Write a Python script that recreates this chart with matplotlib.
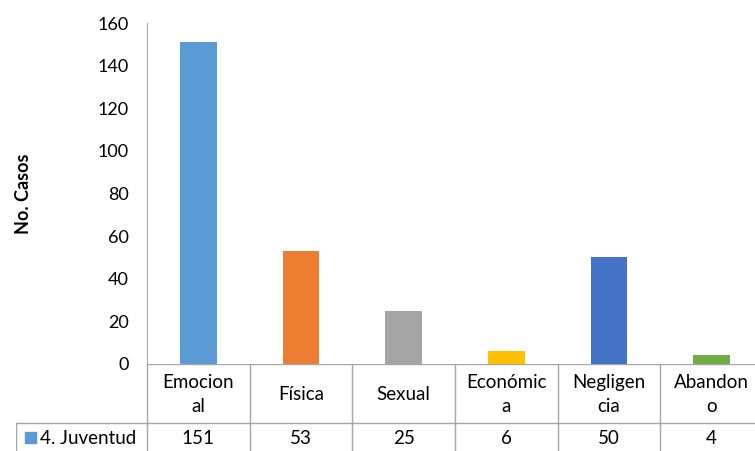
import matplotlib
matplotlib.use("Agg")
import matplotlib.pyplot as plt

categories = ["Emocion\nal", "Física", "Sexual", "Económic\na", "Negligen\ncia", "Abandon\no"]
values = [151, 53, 25, 6, 50, 4]
colors = ["#5B9BD5", "#ED7D31", "#A5A5A5", "#FFC000", "#4472C4", "#70AD47"]
series_name = "4. Juventud"
yticks = [0, 20, 40, 60, 80, 100, 120, 140, 160]

plt.rcParams["font.family"] = ["Lato", "DejaVu Sans"]
W, H = 755, 451
fig = plt.figure(figsize=(W / 100, H / 100), dpi=100)

# plot area in pixels: x 147..763 (runs past the right edge), y 23..364
x0, x1 = 147, 763
ytop, ybot = 23, 364
ax = fig.add_axes([x0 / W, (H - ybot) / H, (x1 - x0) / W, (ybot - ytop) / H])
idx = list(range(len(values)))
ax.bar(idx, values, width=0.36, color=colors)
ax.set_xlim(-0.5, len(values) - 0.5)
ax.set_ylim(0, 160)
ax.set_yticks(yticks)
ax.set_xticks([])
ax.tick_params(axis="y", length=0, pad=13, labelsize=13, colors="#000000")
for s in ["top", "right", "bottom"]:
    ax.spines[s].set_visible(False)
ax.spines["left"].set_color("#A6A6A6")
ax.set_ylabel("No. Casos", fontsize=13, fontweight="bold", labelpad=47)

# data table under the chart (bottom border falls outside the image)
unit = (x1 - x0) / len(values)
left_ext = (x0 - 16) / unit
tb_top, tb_bot = 364, 453
tax = fig.add_axes([16 / W, (H - tb_bot) / H, (x1 - 16) / W, (tb_bot - tb_top) / H])
tax.set_xlim(-0.5 - left_ext, len(values) - 0.5)
tax.set_ylim(tb_bot, tb_top)
tax.axis("off")
lc = "#A6A6A6"
row_split = 423
n = len(values)
tax.plot([-0.5, n - 0.5], [tb_top, tb_top], color=lc, lw=1)
tax.plot([-0.5 - left_ext, n - 0.5], [row_split, row_split], color=lc, lw=1)
for i in range(n + 1):
    tax.plot([i - 0.5, i - 0.5], [tb_top, tb_bot], color=lc, lw=1)
tax.plot([-0.5 - left_ext, -0.5 - left_ext], [row_split, tb_bot], color=lc, lw=1)
for i, (c, v) in enumerate(zip(categories, values)):
    tax.text(i, (tb_top + row_split) / 2 + 1, c, ha="center", va="center",
             fontsize=13.5, linespacing=1.45)
    tax.text(i, (row_split + tb_bot) / 2 + 1, str(v), ha="center", va="center",
             fontsize=13.5)
tax.add_patch(plt.Rectangle((-0.5 - left_ext + 0.09, 432), 0.1, 11,
                            color=colors[0], clip_on=False))
tax.text(-0.5 - left_ext + 0.23, (row_split + tb_bot) / 2 + 1, series_name,
         ha="left", va="center", fontsize=13.5)

fig.savefig("out.png", dpi=100)
